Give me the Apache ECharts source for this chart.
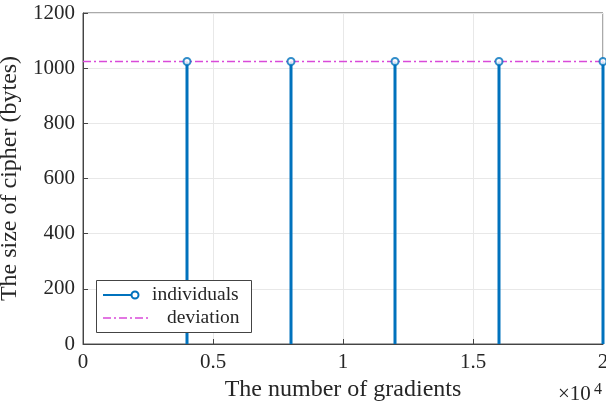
<!DOCTYPE html>
<html><head><meta charset="utf-8">
<script src="https://cdn.jsdelivr.net/npm/echarts@6/dist/echarts.min.js"></script>
<style>html,body{margin:0;padding:0;background:#fff}#c{width:606px;height:406px}</style>
</head><body><div id="c"></div>
<script>
const gradients = [4000, 8000, 12000, 16000, 20000];
const cipherSize = [1024, 1024, 1024, 1024, 1024];
const deviationX = [0, 20000];
const deviationY = [1024, 1024];
const xTickLabels = ['0', '0.5', '1', '1.5', '2'];
const seriesNames = ['individuals', 'deviation'];

const FONT = '"Liberation Serif", "Times New Roman", serif';
const TXT = '#262626';
const BLUE = '#0072BD';
const MAG = '#D94AD9';
const DASH = [8, 3, 2, 3];
const pts = gradients.map((x, i) => [x, cipherSize[i]]);
const dev = deviationX.map((x, i) => [x, deviationY[i]]);

function txt(x, y, s, size, va) {
  return {type: 'text', x: x, y: y, z: 11,
    style: {text: s, fontFamily: FONT, fontSize: size, fill: TXT, verticalAlign: va || 'middle', align: 'left'}};
}

const chart = echarts.init(document.getElementById('c'), null, {renderer: 'canvas'});
chart.setOption({
  animation: false,
  backgroundColor: '#fff',
  grid: {left: 83, right: 3, top: 13, bottom: 62, containLabel: false, outerBoundsMode: 'none',
    show: true, borderColor: '#555', borderWidth: 1},
  xAxis: {
    type: 'value', min: 0, max: 20000, interval: 5000,
    name: 'The number of gradients', nameLocation: 'middle', nameGap: 33,
    nameTextStyle: {fontFamily: FONT, fontSize: 24, color: TXT},
    axisLine: {lineStyle: {color: '#444'}},
    axisTick: {inside: true, length: 5, lineStyle: {color: '#444'}},
    axisLabel: {fontFamily: FONT, fontSize: 21, color: TXT, margin: 8,
      formatter: v => xTickLabels[Math.round(v / 5000)]},
    splitLine: {show: true, lineStyle: {color: '#E8E8E8'}}
  },
  yAxis: {
    type: 'value', min: 0, max: 1200, interval: 200,
    name: 'The size of cipher (bytes)', nameLocation: 'middle', nameGap: 57,
    nameTextStyle: {fontFamily: FONT, fontSize: 24, color: TXT},
    axisLine: {show: true, lineStyle: {color: '#444'}},
    axisTick: {show: true, inside: true, length: 5, lineStyle: {color: '#444'}},
    axisLabel: {fontFamily: FONT, fontSize: 21, color: TXT, margin: 8, formatter: v => String(v)},
    splitLine: {show: true, lineStyle: {color: '#E8E8E8'}}
  },
  series: [
    {
      name: 'stems', type: 'bar', data: pts, barWidth: 3,
      itemStyle: {color: BLUE}, z: 2
    },
    {
      name: seriesNames[1], type: 'line', data: dev, symbol: 'none',
      lineStyle: {color: MAG, width: 1.5, type: DASH}, z: 3
    },
    {
      name: seriesNames[0], type: 'scatter', data: pts, symbol: 'circle', symbolSize: 7,
      clip: false,
      itemStyle: {color: '#fff', borderColor: BLUE, borderWidth: 2}, z: 4
    }
  ],
  graphic: [
    {type: 'rect', shape: {x: 96.5, y: 280.5, width: 155, height: 52},
      style: {fill: '#fff', stroke: '#444', lineWidth: 1}, z: 10},
    {type: 'line', shape: {x1: 103, y1: 295, x2: 136, y2: 295},
      style: {stroke: BLUE, lineWidth: 2}, z: 11},
    {type: 'circle', shape: {cx: 135, cy: 295, r: 3.5},
      style: {fill: '#fff', stroke: BLUE, lineWidth: 2}, z: 12},
    txt(152, 295, seriesNames[0], 19.5),
    {type: 'line', shape: {x1: 103, y1: 318, x2: 148, y2: 318},
      style: {stroke: MAG, lineWidth: 1.5, lineDash: DASH}, z: 11},
    txt(167, 318, seriesNames[1], 19.5),
    txt(558, 405, '×10', 21, 'bottom'),
    txt(594, 398, '4', 16, 'bottom')
  ]
});
</script></body></html>
